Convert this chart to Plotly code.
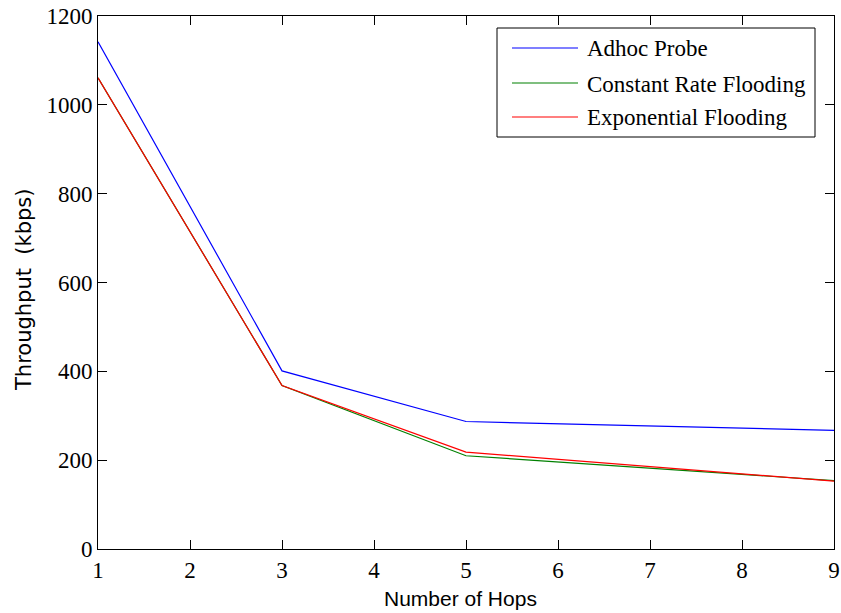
import plotly.graph_objects as go

hops = [1, 3, 5, 9]
adhoc_probe = [1142, 401, 287, 267]
constant_rate = [1061, 368, 210, 154]
exponential = [1061, 368, 218, 153]

series_names = ["Adhoc Probe", "Constant Rate Flooding", "Exponential Flooding"]
series_values = [adhoc_probe, constant_rate, exponential]
series_colors = ["#0000ff", "#008000", "#ff0000"]

x_ticks = [1, 2, 3, 4, 5, 6, 7, 8, 9]
y_ticks = [0, 200, 400, 600, 800, 1000, 1200]

x_title = "Number of Hops"
y_title = "Throughput  (kbps)"

W, H = 841, 613
ml, mr, mt, mb = 98, 7, 16, 64
pw, ph = W - ml - mr, H - mt - mb

def px(xp):
    return (xp - ml) / pw

def py(yp):
    return (H - mb - yp) / ph

fig = go.Figure()
for name, vals, col in zip(series_names, series_values, series_colors):
    fig.add_trace(go.Scatter(x=hops, y=vals, mode="lines", name=name,
                             line=dict(color=col, width=1.2), showlegend=False))

serif = "Liberation Serif"
sans = "Liberation Sans"

axis_common = dict(showline=True, linecolor="black", linewidth=1, mirror="ticks",
                   ticks="inside", ticklen=9, tickcolor="black", tickwidth=1,
                   showgrid=False, zeroline=False, automargin=False,
                   tickfont=dict(family=serif, size=23, color="black"))

fig.update_xaxes(range=[1, 9], tickvals=x_ticks, **axis_common)
fig.update_yaxes(range=[0, 1200], tickvals=y_ticks, **axis_common)

# manual legend box
shapes = [dict(type="rect", xref="paper", yref="paper",
               x0=px(497), x1=px(815), y0=py(137), y1=py(28),
               line=dict(color="black", width=1), fillcolor="white", layer="above")]
annotations = []
item_y = [48, 83, 117]
for name, col, yy in zip(series_names, series_colors, item_y):
    shapes.append(dict(type="line", xref="paper", yref="paper",
                       x0=px(512), x1=px(578), y0=py(yy), y1=py(yy),
                       line=dict(color=col, width=1.2), layer="above"))
    annotations.append(dict(xref="paper", yref="paper", x=px(585), y=py(yy + 1),
                            text=name, showarrow=False, xanchor="left", yanchor="middle",
                            font=dict(family=serif, size=23, color="black")))

# axis titles
annotations.append(dict(xref="paper", yref="paper", x=px(460), y=py(598),
                        text=x_title, showarrow=False, xanchor="center", yanchor="middle",
                        font=dict(family=sans, size=21, color="black")))
annotations.append(dict(xref="paper", yref="paper", x=px(24), y=py(290),
                        text=y_title, showarrow=False, xanchor="center", yanchor="middle",
                        textangle=-90,
                        font=dict(family="DejaVu Sans", size=21, color="black")))

fig.update_layout(width=W, height=H, margin=dict(l=ml, r=mr, t=mt, b=mb),
                  plot_bgcolor="white", paper_bgcolor="white",
                  shapes=shapes, annotations=annotations, showlegend=False)

fig.write_html("out.html")
